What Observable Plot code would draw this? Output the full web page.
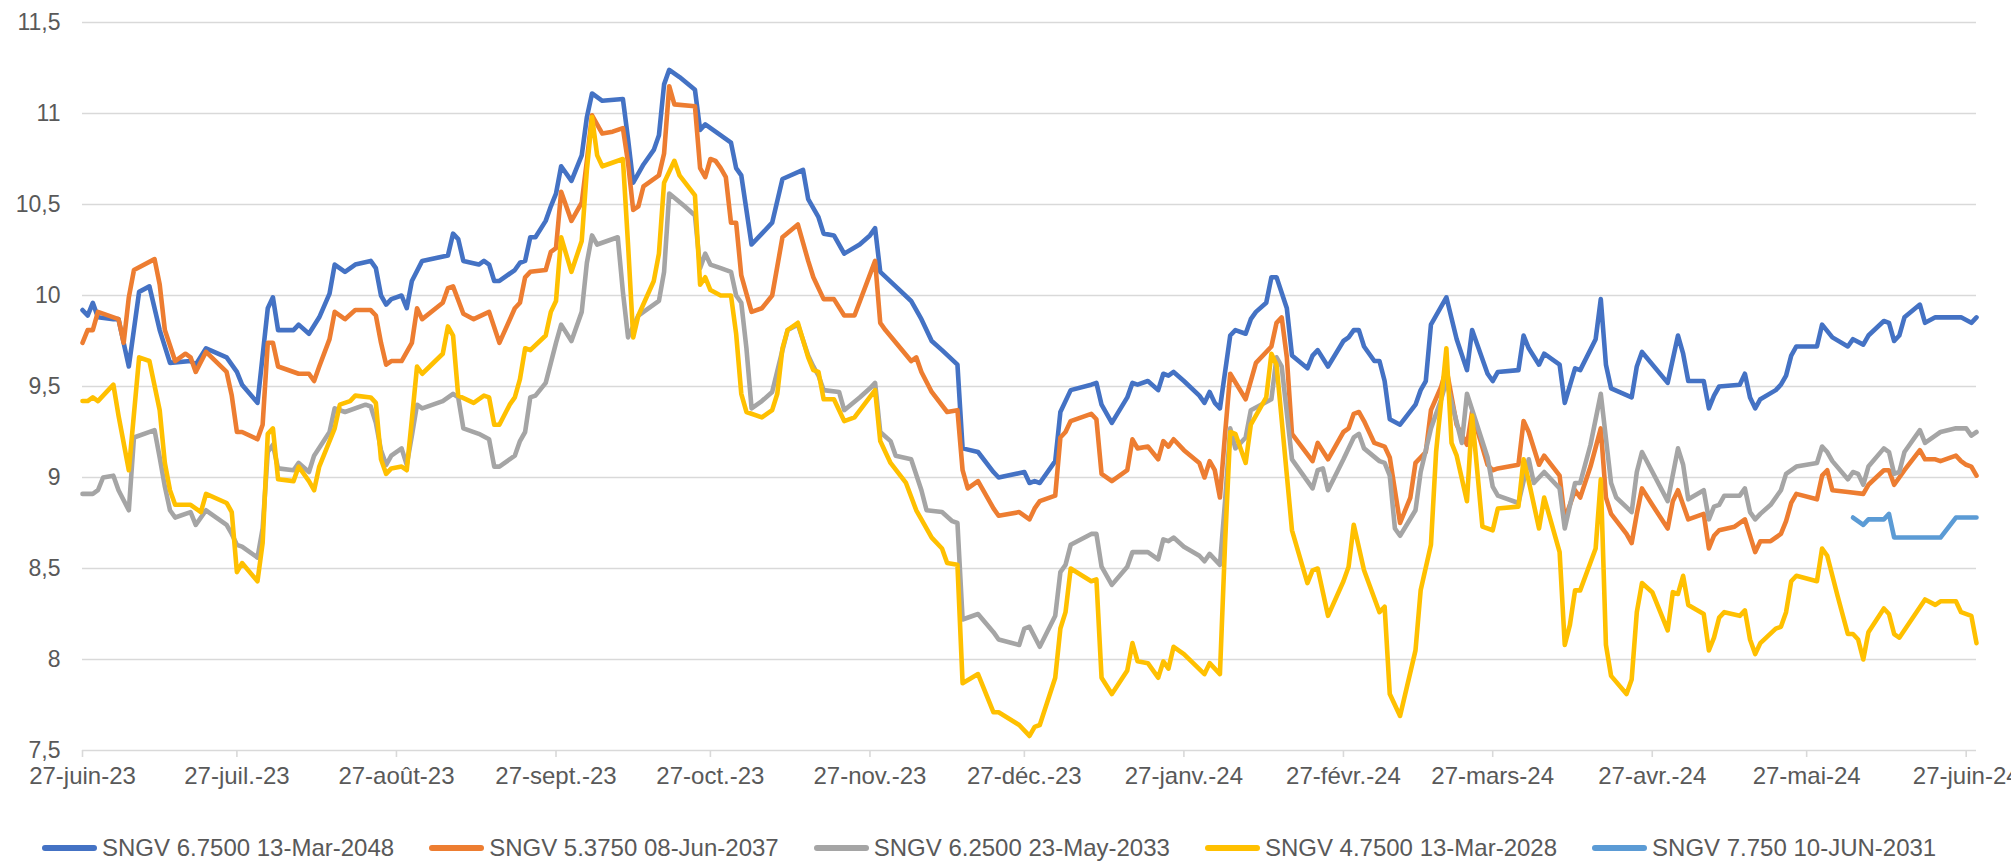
<!DOCTYPE html>
<html>
<head>
<meta charset="utf-8">
<script src="https://cdn.jsdelivr.net/npm/d3@7"></script>
<script src="https://cdn.jsdelivr.net/npm/@observablehq/plot@0.6"></script>
<style>
  html, body { margin: 0; padding: 0; background: #ffffff; }
  body { width: 2011px; height: 862px; overflow: hidden; font-family: "Liberation Sans", Arial, sans-serif; }
  #legend { display: flex; align-items: center; padding-left: 42px; gap: 35px; margin-top: 14px; height: 28px;
            font-size: 24px; color: #595959; white-space: nowrap; }
  .item { display: flex; align-items: center; }
  .sw { display: inline-block; width: 55px; height: 5.5px; border-radius: 3px; margin-right: 5px; }
</style>
</head>
<body>
<div id="chart"></div>
<div id="legend"></div>
<script>
// Dates are given as days since 27-Jun-2023
const startDate = "2023-06-27";

const seriesNames = ["SNGV 6.7500 13-Mar-2048", "SNGV 5.3750 08-Jun-2037", "SNGV 6.2500 23-May-2033", "SNGV 4.7500 13-Mar-2028", "SNGV 7.750 10-JUN-2031"];
const seriesColors = ["#4472C4", "#ED7D31", "#A5A5A5", "#FFC000", "#5B9BD5"];

const days2048 = [0,1,2,3,6,7,9,11,13,15,17,21,22,24,28,30,31,34,36,37,38,41,42,44,46,48,49,51,53,56,57,58,59,60,62,63,64,66,71,72,73,74,77,78,79,80,81,84,85,86,87,88,90,91,92,93,95,97,98,99,101,105,106,107,109,111,112,113,114,116,119,120,121,123,126,127,128,130,132,134,136,140,141,143,144,146,148,151,153,154,155,158,161,163,165,167,170,171,174,177,178,183,184,185,186,189,190,192,196,197,198,200,203,204,205,207,209,210,211,212,214,217,218,219,220,221,223,224,226,227,228,230,231,232,234,235,238,239,240,242,245,246,247,248,249,251,252,253,254,256,259,260,261,262,265,267,269,270,273,274,275,279,280,281,283,284,287,288,290,291,294,295,296,297,301,302,303,308,310,311,312,315,316,317,318,322,323,324,325,326,329,330,331,332,333,337,338,340,343,344,346,347,350,351,352,353,354,357,358,360,365,367,368];
const vals2048 = [9.92,9.89,9.96,9.88,9.87,9.87,9.61,10.02,10.05,9.81,9.63,9.64,9.62,9.71,9.66,9.58,9.51,9.41,9.93,9.99,9.81,9.81,9.84,9.79,9.88,10.01,10.17,10.13,10.17,10.19,10.15,10.0,9.95,9.98,10.0,9.93,10.08,10.19,10.22,10.34,10.31,10.19,10.17,10.19,10.17,10.08,10.08,10.14,10.18,10.19,10.32,10.32,10.41,10.49,10.56,10.71,10.63,10.77,10.98,11.11,11.07,11.08,10.86,10.62,10.72,10.80,10.88,11.16,11.24,11.20,11.13,10.91,10.94,10.90,10.84,10.70,10.66,10.28,10.34,10.40,10.64,10.69,10.53,10.43,10.34,10.33,10.23,10.28,10.33,10.37,10.13,10.05,9.97,9.87,9.75,9.70,9.62,9.16,9.14,9.03,9.00,9.03,8.97,8.98,8.97,9.09,9.36,9.48,9.51,9.52,9.40,9.30,9.44,9.52,9.51,9.53,9.48,9.57,9.56,9.58,9.53,9.45,9.41,9.47,9.41,9.38,9.78,9.81,9.79,9.87,9.91,9.96,10.10,10.10,9.93,9.67,9.60,9.67,9.70,9.61,9.75,9.77,9.81,9.81,9.72,9.64,9.64,9.53,9.32,9.29,9.40,9.48,9.53,9.84,9.99,9.76,9.59,9.81,9.57,9.53,9.58,9.59,9.78,9.71,9.62,9.68,9.62,9.41,9.60,9.59,9.76,9.98,9.62,9.49,9.44,9.61,9.69,9.52,9.78,9.68,9.53,9.53,9.38,9.45,9.50,9.51,9.57,9.44,9.38,9.43,9.48,9.51,9.56,9.67,9.72,9.72,9.84,9.77,9.72,9.76,9.73,9.78,9.86,9.85,9.75,9.78,9.88,9.95,9.85,9.88,9.88,9.85,9.88];

const days2037 = [0,1,2,3,7,8,9,10,14,15,16,18,20,21,22,24,28,29,30,31,34,35,36,37,38,42,44,45,46,48,49,51,53,56,57,58,59,60,62,64,65,66,70,71,72,74,76,79,81,84,85,86,87,90,91,92,93,95,97,98,99,101,103,105,106,107,108,109,112,113,114,115,119,120,121,122,123,124,125,126,127,128,130,132,134,136,139,141,142,144,146,148,150,154,155,156,161,162,163,165,168,170,171,172,174,177,178,182,184,185,186,189,190,191,192,196,197,198,200,203,204,205,207,209,210,211,212,214,217,218,219,220,221,222,223,226,228,231,232,233,234,235,239,240,242,245,246,247,248,249,251,253,254,255,256,258,259,261,262,264,265,267,269,270,273,274,275,279,280,281,283,284,287,288,290,291,293,295,296,297,300,301,302,303,305,308,309,310,312,315,316,317,318,321,323,325,326,328,330,331,332,333,337,338,339,340,343,346,347,350,351,352,354,357,358,360,361,364,365,366,367,368];
const vals2037 = [9.74,9.81,9.81,9.91,9.87,9.74,9.99,10.14,10.20,10.06,9.81,9.64,9.68,9.66,9.58,9.69,9.58,9.45,9.25,9.25,9.21,9.29,9.74,9.74,9.61,9.57,9.57,9.53,9.61,9.76,9.91,9.87,9.92,9.92,9.89,9.74,9.62,9.64,9.64,9.74,9.93,9.87,9.96,10.04,10.05,9.90,9.87,9.91,9.74,9.93,9.96,10.10,10.13,10.14,10.24,10.26,10.57,10.41,10.51,10.74,10.99,10.89,10.90,10.92,10.73,10.47,10.49,10.60,10.66,10.78,11.15,11.05,11.04,10.70,10.65,10.75,10.74,10.70,10.65,10.40,10.40,10.11,9.91,9.93,10.00,10.32,10.39,10.19,10.10,9.98,9.98,9.89,9.89,10.19,9.85,9.81,9.64,9.66,9.58,9.47,9.36,9.37,9.04,8.94,8.98,8.83,8.79,8.81,8.77,8.83,8.87,8.90,9.22,9.25,9.31,9.35,9.32,9.02,8.98,9.04,9.21,9.16,9.17,9.10,9.20,9.17,9.21,9.15,9.08,9.00,9.09,9.04,8.89,9.24,9.57,9.43,9.63,9.72,9.85,9.88,9.66,9.24,9.09,9.19,9.10,9.25,9.27,9.35,9.36,9.31,9.19,9.17,9.11,8.93,8.75,8.89,9.08,9.14,9.37,9.50,9.60,9.29,9.18,9.36,9.07,9.04,9.05,9.07,9.31,9.25,9.07,9.12,9.01,8.77,8.93,8.89,9.06,9.27,8.89,8.80,8.69,8.64,8.80,8.94,8.85,8.72,8.87,8.93,8.77,8.80,8.61,8.68,8.71,8.73,8.77,8.59,8.65,8.65,8.69,8.76,8.86,8.91,8.88,9.01,9.04,8.93,8.92,8.91,8.96,9.04,9.04,8.96,9.04,9.15,9.10,9.10,9.09,9.12,9.09,9.07,9.06,9.01];

const days2033 = [0,2,3,4,6,7,9,10,14,15,16,17,18,21,22,24,28,29,30,31,34,35,36,37,38,41,42,44,45,48,49,51,55,56,57,58,59,60,62,63,64,65,66,70,72,73,74,77,79,80,81,84,85,86,87,88,90,91,92,93,95,97,98,99,100,104,105,106,108,112,113,114,117,119,120,121,122,124,126,127,128,129,130,132,134,136,137,139,141,142,143,144,147,148,151,153,154,155,157,158,161,163,164,167,169,170,171,174,177,178,182,183,184,186,189,190,191,192,196,197,198,200,203,204,207,209,210,211,212,214,217,218,219,221,222,223,224,226,227,231,232,233,235,239,240,241,242,245,247,248,249,252,253,254,255,256,259,260,262,264,265,268,269,273,274,275,279,281,282,284,287,288,290,291,293,295,297,298,301,302,303,308,310,311,312,315,316,317,318,319,322,323,324,325,326,328,330,331,333,337,338,339,340,343,344,345,346,347,350,351,352,353,354,357,358,360,361,364,366,367,368];
const vals2033 = [8.91,8.91,8.93,9.00,9.01,8.93,8.82,9.22,9.26,9.11,8.95,8.82,8.78,8.81,8.74,8.82,8.74,8.69,8.63,8.62,8.56,8.72,9.14,9.18,9.05,9.04,9.08,9.03,9.12,9.25,9.38,9.36,9.40,9.39,9.30,9.15,9.07,9.12,9.16,9.07,9.23,9.40,9.38,9.42,9.46,9.44,9.27,9.24,9.21,9.06,9.06,9.12,9.20,9.25,9.44,9.45,9.52,9.63,9.74,9.84,9.75,9.91,10.18,10.33,10.28,10.32,10.02,9.77,9.89,9.97,10.13,10.56,10.49,10.44,10.15,10.23,10.17,10.15,10.13,10.00,9.96,9.71,9.38,9.42,9.47,9.70,9.81,9.84,9.67,9.61,9.56,9.48,9.47,9.37,9.44,9.49,9.52,9.25,9.20,9.12,9.10,8.93,8.82,8.81,8.76,8.75,8.22,8.25,8.15,8.11,8.08,8.17,8.18,8.07,8.24,8.48,8.52,8.63,8.69,8.69,8.51,8.41,8.51,8.59,8.59,8.55,8.66,8.65,8.67,8.62,8.57,8.54,8.58,8.52,8.87,9.27,9.16,9.22,9.37,9.43,9.66,9.61,9.10,8.94,9.04,9.05,8.93,9.10,9.22,9.24,9.16,9.09,9.08,9.01,8.72,8.68,8.82,9.03,9.27,9.43,9.53,9.19,9.46,9.11,8.95,8.90,8.86,9.10,8.97,9.03,8.94,8.72,8.97,8.97,9.18,9.46,8.97,8.89,8.81,9.03,9.14,8.87,9.16,9.07,8.88,8.93,8.77,8.84,8.85,8.90,8.90,8.94,8.81,8.77,8.80,8.85,8.93,9.02,9.06,9.08,9.17,9.14,9.09,8.99,9.03,9.02,8.96,9.06,9.16,9.14,9.02,9.03,9.14,9.26,9.19,9.23,9.25,9.27,9.27,9.23,9.25];

const days2028 = [0,1,2,3,6,7,9,11,13,15,16,17,18,21,23,24,28,29,30,31,34,35,36,37,38,41,42,44,45,46,49,50,52,53,56,57,58,59,60,62,63,64,65,66,70,71,72,73,76,78,79,80,81,83,84,85,86,87,90,91,92,93,95,97,98,99,100,101,105,106,107,108,111,112,113,115,116,119,120,121,122,124,126,127,128,129,132,134,135,136,137,139,141,142,143,144,146,148,150,154,155,157,160,162,163,165,167,168,170,171,174,177,178,182,184,185,186,189,190,191,192,196,197,198,200,203,204,205,207,209,210,211,212,214,218,219,220,221,222,223,224,226,227,230,231,232,235,238,239,240,242,245,246,247,249,252,253,254,256,259,260,262,263,265,266,267,269,270,272,274,275,279,280,281,283,284,287,288,289,290,291,294,295,296,297,300,301,302,303,305,308,309,310,311,312,315,316,317,318,319,322,323,324,325,326,329,330,331,332,333,337,338,339,341,343,344,345,346,347,350,351,352,353,358,360,361,364,365,367,368];
const vals2028 = [9.42,9.42,9.44,9.42,9.51,9.34,9.04,9.66,9.64,9.37,9.08,8.93,8.85,8.85,8.81,8.91,8.86,8.81,8.48,8.53,8.43,8.64,9.24,9.27,8.99,8.98,9.06,8.98,8.93,9.06,9.27,9.40,9.42,9.45,9.44,9.41,9.10,9.02,9.05,9.06,9.04,9.32,9.61,9.57,9.68,9.83,9.78,9.45,9.41,9.45,9.44,9.29,9.29,9.40,9.44,9.54,9.71,9.70,9.78,9.91,9.97,10.32,10.13,10.30,10.69,10.98,10.77,10.71,10.75,10.28,9.77,9.89,10.08,10.23,10.62,10.74,10.66,10.55,10.06,10.10,10.03,10.00,10.00,9.79,9.46,9.36,9.33,9.37,9.46,9.71,9.81,9.85,9.66,9.59,9.58,9.43,9.43,9.31,9.33,9.48,9.20,9.08,8.97,8.82,8.77,8.67,8.61,8.53,8.52,7.87,7.92,7.71,7.71,7.64,7.58,7.63,7.64,7.90,8.17,8.26,8.50,8.43,8.44,7.90,7.81,7.94,8.09,7.99,7.98,7.90,7.99,7.95,8.07,8.03,7.92,7.98,7.95,7.92,8.64,9.25,9.24,9.08,9.29,9.44,9.68,9.62,8.71,8.42,8.49,8.50,8.24,8.43,8.51,8.74,8.49,8.26,8.29,7.81,7.69,8.05,8.38,8.63,9.14,9.71,9.19,9.12,8.87,9.34,8.73,8.71,8.83,8.84,9.10,8.98,8.72,8.89,8.59,8.08,8.19,8.38,8.38,8.61,8.99,8.08,7.91,7.81,7.89,8.26,8.42,8.37,8.16,8.37,8.36,8.46,8.30,8.25,8.05,8.12,8.23,8.26,8.24,8.27,8.11,8.03,8.09,8.17,8.18,8.26,8.43,8.46,8.43,8.61,8.57,8.35,8.14,8.14,8.11,8.00,8.15,8.28,8.25,8.14,8.12,8.33,8.30,8.32,8.32,8.26,8.24,8.09];

const days2031 = [344,346,347,350,351,352,361,364,368];
const vals2031 = [8.78,8.74,8.77,8.77,8.80,8.67,8.67,8.78,8.78];

const yTicks = [7.5, 8, 8.5, 9, 9.5, 10, 10.5, 11, 11.5];
const tickDates = ["2023-06-27","2023-07-27","2023-08-27","2023-09-27","2023-10-27","2023-11-27","2023-12-27","2024-01-27","2024-02-27","2024-03-27","2024-04-27","2024-05-27","2024-06-27"];
const tickLabels = ["27-juin-23","27-juil.-23","27-août-23","27-sept.-23","27-oct.-23","27-nov.-23","27-déc.-23","27-janv.-24","27-févr.-24","27-mars-24","27-avr.-24","27-mai-24","27-juin-24"];
const lastDay = 368;

const parse = d3.utcParse("%Y-%m-%d");
const t0 = parse(startDate);
const toRows = (days, vals) => days.map((d, i) => ({date: d3.utcDay.offset(t0, d), value: vals[i]}));
const seriesData = [
  toRows(days2048, vals2048),
  toRows(days2037, vals2037),
  toRows(days2033, vals2033),
  toRows(days2028, vals2028),
  toRows(days2031, vals2031)
];
const tickDateObjs = tickDates.map(parse);
const labelMap = new Map(tickDateObjs.map((d, i) => [+d, tickLabels[i]]));

const chart = Plot.plot({
  width: 2011,
  height: 820,
  marginLeft: 82,
  marginRight: 35,
  marginTop: 22,
  marginBottom: 70,
  style: {fontFamily: '"Liberation Sans", Arial, sans-serif', fontSize: "24px", color: "#595959", background: "transparent", overflow: "visible"},
  x: {type: "utc", domain: [t0, d3.utcDay.offset(t0, lastDay)]},
  y: {domain: [7.5, 11.5]},
  marks: [
    Plot.gridY(yTicks, {stroke: "#d9d9d9", strokeOpacity: 1, strokeWidth: 1.6}),
    Plot.axisY(yTicks, {tickSize: 0, tickPadding: 22, label: null, fontSize: 23, tickFormat: d => String(d).replace(".", ",")}),
    Plot.axisX(tickDateObjs, {tickSize: 7, tickPadding: 9, label: null, stroke: "#d9d9d9", strokeWidth: 1.6, fontSize: 24, tickFormat: d => labelMap.get(+d)}),
    ...seriesData.map((rows, i) => Plot.line(rows, {x: "date", y: "value", stroke: seriesColors[i], strokeWidth: 4.6, strokeLinejoin: "round", strokeLinecap: "round"}))
  ]
});
document.getElementById("chart").appendChild(chart);

const legend = document.getElementById("legend");
seriesNames.forEach((name, i) => {
  const item = document.createElement("div");
  item.className = "item";
  const sw = document.createElement("span");
  sw.className = "sw";
  sw.style.background = seriesColors[i];
  const label = document.createElement("span");
  label.textContent = name;
  item.appendChild(sw);
  item.appendChild(label);
  legend.appendChild(item);
});
</script>
</body>
</html>
